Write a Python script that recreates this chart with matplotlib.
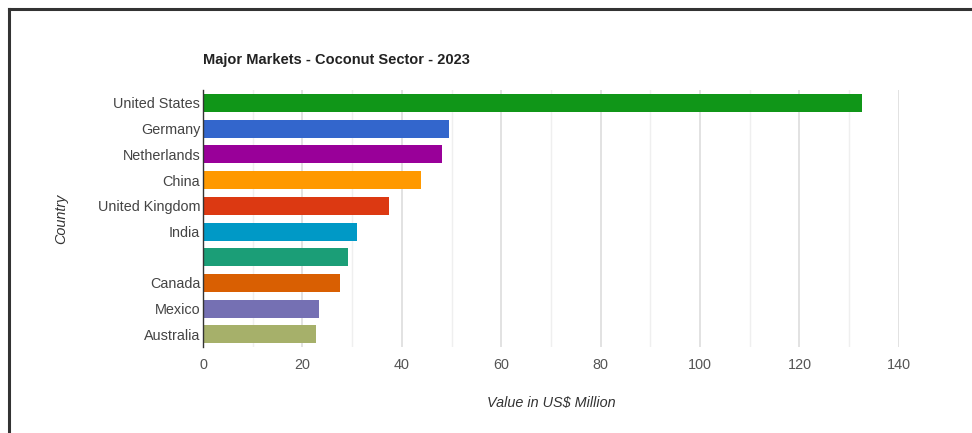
import matplotlib.pyplot as plt
from matplotlib.lines import Line2D
import numpy as np

plt.rcParams['font.family'] = ['Liberation Sans', 'DejaVu Sans']

# data (one label is missing in the source chart)
countries = ['United States', 'Germany', 'Netherlands', 'China', 'United Kingdom',
             'India', '', 'Canada', 'Mexico', 'Australia']
values = [132.6, 49.5, 48.1, 43.9, 37.4, 31.0, 29.2, 27.6, 23.3, 22.7]
colors = ['#109618', '#3366cc', '#990099', '#ff9900', '#dc3912',
          '#0099c6', '#1b9e77', '#d95f02', '#7570b3', '#a6b06a']
xticks = [0, 20, 40, 60, 80, 100, 120, 140]

fig = plt.figure(figsize=(9.72, 4.33), dpi=100)
ax = fig.add_axes([0.2088, 0.198, 0.716, 0.594])

ypos = np.arange(len(countries))
ax.barh(ypos, values, height=0.7, color=colors, zorder=3)

ax.set_ylim(len(countries) - 0.5, -0.5)
ax.set_xlim(0, 140)
ax.set_yticks(ypos)
ax.set_yticklabels(countries, fontsize=10.4, color='#444444')
ax.set_xticks(xticks)
ax.set_xticklabels([str(t) for t in xticks], fontsize=10.4, color='#555555')
ax.set_xticks(np.arange(10, 140, 20), minor=True)

ax.grid(axis='x', which='major', color='#dddddd', linewidth=1.2, zorder=0)
ax.grid(axis='x', which='minor', color='#efefef', linewidth=1.0, zorder=0)
ax.tick_params(axis='both', which='both', length=0)
ax.tick_params(axis='x', pad=8)
ax.tick_params(axis='y', pad=2)

for s in ['top', 'right', 'bottom']:
    ax.spines[s].set_visible(False)
ax.spines['left'].set_color('#333333')
ax.spines['left'].set_linewidth(1.0)
ax.spines['left'].set_zorder(4)

ax.set_xlabel('Value in US$ Million', fontsize=10.4, style='italic', color='#333333', labelpad=17)
ax.set_ylabel('Country', fontsize=10.4, style='italic', color='#333333')
ax.yaxis.set_label_coords(-0.194, 0.5)

fig.text(0.2088, 0.862, 'Major Markets - Coconut Sector - 2023', fontsize=10.5,
         fontweight='bold', color='#222222', ha='left', va='center')

# screenshot frame (top and left edges)
fig.add_artist(Line2D([9 / 972, 1], [1 - 9 / 433, 1 - 9 / 433], color='#333333', linewidth=2.2))
fig.add_artist(Line2D([9 / 972, 9 / 972], [0, 1 - 9 / 433], color='#333333', linewidth=2.2))

fig.savefig('out.png', dpi=100, facecolor='white')
